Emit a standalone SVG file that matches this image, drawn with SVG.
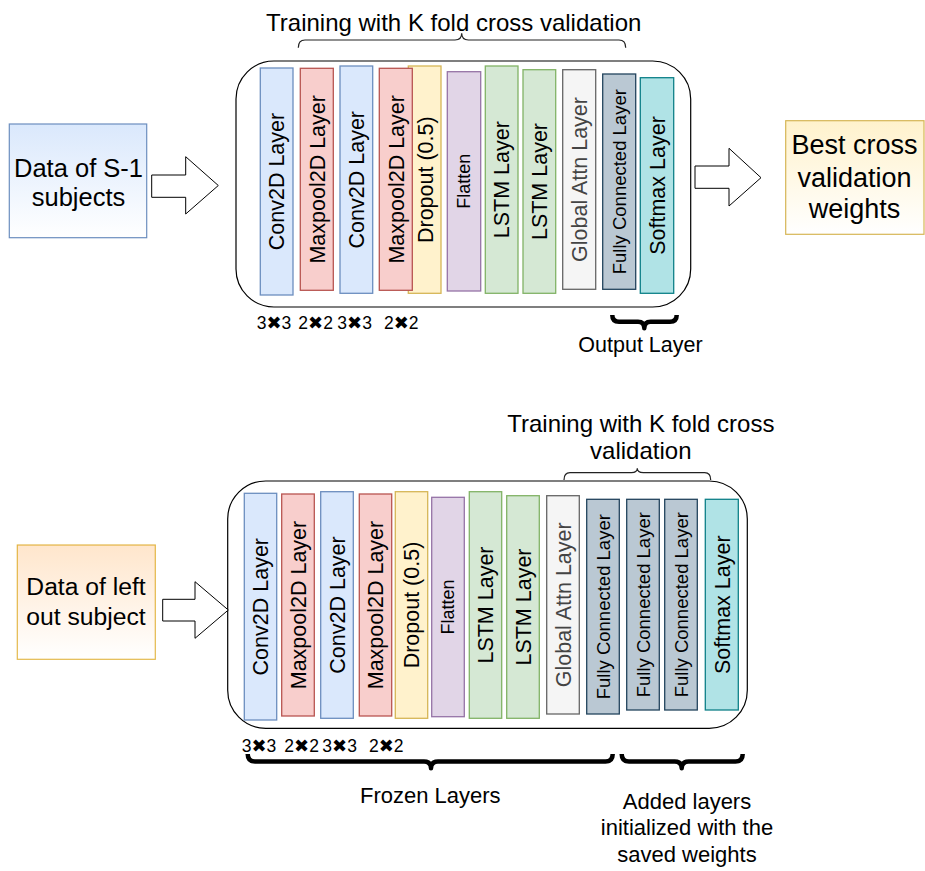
<svg xmlns="http://www.w3.org/2000/svg" width="925" height="871" viewBox="0 0 925 871">
<defs>
<linearGradient id="gBlue" x1="0" y1="0" x2="0" y2="1"><stop offset="0" stop-color="#dae8fc"/><stop offset="1" stop-color="#ffffff"/></linearGradient>
<linearGradient id="gYellow" x1="0" y1="0" x2="0" y2="1"><stop offset="0" stop-color="#fff2cc"/><stop offset="1" stop-color="#ffffff"/></linearGradient>
<linearGradient id="gOrange" x1="0" y1="0" x2="0" y2="1"><stop offset="0" stop-color="#ffe6cc"/><stop offset="1" stop-color="#ffffff"/></linearGradient>
<style>
text{font-family:"Liberation Sans",Arial,"DejaVu Sans",sans-serif;fill:#000}
.lbl{text-anchor:middle}
.bar text{text-anchor:middle;font-size:21.5px}
.conv rect{fill:#dae8fc;stroke:#6c8ebf}
.pool rect{fill:#f8cecc;stroke:#b85450}
.drop rect{fill:#fff2cc;stroke:#d6b656}
.flat rect{fill:#e1d5e7;stroke:#9673a6}
.bar.flat text{font-size:18px}
.lstm rect{fill:#d5e8d4;stroke:#82b366}
.attn rect{fill:#f5f5f5;stroke:#666666}
.attn text{fill:#444444}
.fc rect{fill:#bac8d3;stroke:#23445d}
.bar.fc text{font-size:18.5px}
.soft rect{fill:#b0e3e6;stroke:#0e8088}
.bar rect{stroke-width:1.3}
.panel{fill:#ffffff;stroke:#000;stroke-width:1.2}
.barrow{fill:#ffffff;stroke:#000;stroke-width:1}
.thin{fill:none;stroke:#222;stroke-width:1.2}
.thick{fill:none;stroke:#000;stroke-width:4.5;stroke-linejoin:round}
.dim{font-size:17.5px}
.x{font-family:"DejaVu Sans",sans-serif;font-size:18px}
</style>
</defs>

<!-- TOP PANEL -->
<text class="lbl" x="453.7" y="30.7" font-size="24">Training with K fold cross validation</text>
<path class="thin" d="M298.3,47.7 Q298.3,40 305,40 L455,40 Q461.7,40 461.7,33.3 Q461.7,40 468.4,40 L619,40 Q625.7,40 625.7,47.7"/>

<g id="input-top">
<rect x="9.3" y="124" width="137.4" height="113.7" fill="url(#gBlue)" stroke="#6c8ebf" stroke-width="1.2"/>
<text class="lbl" x="78.5" y="177" font-size="25.5">Data of S-1</text>
<text class="lbl" x="78.5" y="206" font-size="25.5">subjects</text>
</g>

<g id="model-top">
<rect class="panel" x="236" y="61" width="454.7" height="246" rx="38" ry="38"/>
<g id="t-conv1" class="bar conv"><rect x="260.3" y="68" width="32.7" height="227"/><text x="276.7" y="181.5" dy=".36em" transform="rotate(-90 276.7 181.5)">Conv2D Layer</text></g>
<g id="t-pool1" class="bar pool"><rect x="300.3" y="68.3" width="33" height="222"/><text x="316.8" y="179.3" dy=".36em" transform="rotate(-90 316.8 179.3)">Maxpool2D Layer</text></g>
<g id="t-conv2" class="bar conv"><rect x="340" y="66" width="32.7" height="227.3"/><text x="356.3" y="179.7" dy=".36em" transform="rotate(-90 356.3 179.7)">Conv2D Layer</text></g>
<g id="t-drop" class="bar drop"><rect x="408.3" y="66" width="32.7" height="227.3"/><text x="425.5" y="179.7" dy=".36em" transform="rotate(-90 425.5 179.7)">Dropout (0.5)</text></g>
<g id="t-pool2" class="bar pool"><rect x="379.3" y="68.3" width="33" height="222"/><text x="395.8" y="179.3" dy=".36em" transform="rotate(-90 395.8 179.3)">Maxpool2D Layer</text></g>
<g id="t-flat" class="bar flat"><rect x="447.3" y="71.7" width="33.4" height="219.3"/><text x="464" y="181.3" dy=".36em" transform="rotate(-90 464 181.3)">Flatten</text></g>
<g id="t-lstm1" class="bar lstm"><rect x="485.3" y="66" width="32.7" height="227.3"/><text x="501.7" y="179.7" dy=".36em" transform="rotate(-90 501.7 179.7)">LSTM Layer</text></g>
<g id="t-lstm2" class="bar lstm"><rect x="523" y="69.7" width="32.7" height="223.6"/><text x="539.3" y="181.5" dy=".36em" transform="rotate(-90 539.3 181.5)">LSTM Layer</text></g>
<g id="t-attn" class="bar attn"><rect x="562.7" y="69.7" width="33" height="219.6"/><text x="579.2" y="179.5" dy=".36em" transform="rotate(-90 579.2 179.5)">Global Attn Layer</text></g>
<g id="t-fc" class="bar fc"><rect x="602.7" y="74" width="33" height="215.3"/><text x="619.2" y="181.7" dy=".36em" transform="rotate(-90 619.2 181.7)">Fully Connected Layer</text></g>
<g id="t-soft" class="bar soft"><rect x="640.3" y="77.7" width="33.4" height="215.6"/><text x="657" y="185.5" dy=".36em" transform="rotate(-90 657 185.5)">Softmax Layer</text></g>
</g>

<g id="dims-top">
<text x="256.7" y="329.3" class="dim">3<tspan class="x">✖</tspan>3</text>
<text x="298.3" y="329.3" class="dim">2<tspan class="x">✖</tspan>2</text>
<text x="337.3" y="329.3" class="dim">3<tspan class="x">✖</tspan>3</text>
<text x="384" y="329.3" class="dim">2<tspan class="x">✖</tspan>2</text>
</g>

<g id="output-brace">
<path class="thick" d="M612.3,315 Q612.3,321.7 619,321.7 L638,321.7 Q644.3,321.7 644.3,328.3 Q644.3,321.7 650.6,321.7 L670,321.7 Q676.7,321.7 676.7,315"/>
<text class="lbl" x="640.5" y="351.7" font-size="21.5">Output Layer</text>
</g>

<g id="output-top">
<rect x="785.7" y="120.7" width="138.3" height="113.6" fill="url(#gYellow)" stroke="#d6b656" stroke-width="1.2"/>
<text class="lbl" x="854.5" y="154.3" font-size="27">Best cross</text>
<text class="lbl" x="854.5" y="186.7" font-size="27">validation</text>
<text class="lbl" x="854.5" y="218.3" font-size="27">weights</text>
</g>

<!-- BOTTOM PANEL -->
<text class="lbl" x="640.8" y="431.7" font-size="24">Training with K fold cross</text>
<text class="lbl" x="640.8" y="459.3" font-size="24">validation</text>
<path class="thin" d="M564,480 Q564,472.7 570,472.7 L631.3,472.7 Q637.3,472.7 637.3,468.3 Q637.3,472.7 643.3,472.7 L704.7,472.7 Q710.7,472.7 710.7,480"/>

<g id="input-bottom">
<rect x="17.3" y="545" width="138" height="114.3" fill="url(#gOrange)" stroke="#d79b00" stroke-opacity="0.7" stroke-width="1.2"/>
<text class="lbl" x="86" y="595" font-size="24.7">Data of left</text>
<text class="lbl" x="86" y="625" font-size="24.7">out subject</text>
</g>

<g id="model-bottom">
<rect class="panel" x="227.7" y="481" width="519.6" height="247.3" rx="38" ry="38"/>
<g id="b-conv1" class="bar conv"><rect x="244.3" y="493.3" width="32.4" height="226.7"/><text x="260.5" y="606.7" dy=".36em" transform="rotate(-90 260.5 606.7)">Conv2D Layer</text></g>
<g id="b-pool1" class="bar pool"><rect x="281.7" y="494" width="32.6" height="222"/><text x="298" y="605" dy=".36em" transform="rotate(-90 298 605)">Maxpool2D Layer</text></g>
<g id="b-conv2" class="bar conv"><rect x="320.7" y="491.7" width="32.6" height="226.6"/><text x="337" y="605" dy=".36em" transform="rotate(-90 337 605)">Conv2D Layer</text></g>
<g id="b-pool2" class="bar pool"><rect x="359.3" y="494" width="32.4" height="222"/><text x="375.5" y="605" dy=".36em" transform="rotate(-90 375.5 605)">Maxpool2D Layer</text></g>
<g id="b-drop" class="bar drop"><rect x="395.3" y="491.7" width="32.4" height="226.6"/><text x="411.5" y="605" dy=".36em" transform="rotate(-90 411.5 605)">Dropout (0.5)</text></g>
<g id="b-flat" class="bar flat"><rect x="431.7" y="497.3" width="32.6" height="219.4"/><text x="448" y="607" dy=".36em" transform="rotate(-90 448 607)">Flatten</text></g>
<g id="b-lstm1" class="bar lstm"><rect x="469.3" y="491.7" width="32.4" height="226.6"/><text x="485.5" y="605" dy=".36em" transform="rotate(-90 485.5 605)">LSTM Layer</text></g>
<g id="b-lstm2" class="bar lstm"><rect x="506.7" y="495.7" width="32.6" height="222.6"/><text x="523" y="607" dy=".36em" transform="rotate(-90 523 607)">LSTM Layer</text></g>
<g id="b-attn" class="bar attn"><rect x="546.7" y="495.7" width="32.6" height="218.3"/><text x="563" y="604.8" dy=".36em" transform="rotate(-90 563 604.8)">Global Attn Layer</text></g>
<g id="b-fc1" class="bar fc"><rect x="586.7" y="499.3" width="32.6" height="214.7"/><text x="603" y="606.7" dy=".36em" transform="rotate(-90 603 606.7)">Fully Connected Layer</text></g>
<g id="b-fc2" class="bar fc"><rect x="626.7" y="499.3" width="32.6" height="210.7"/><text x="643" y="604.7" dy=".36em" transform="rotate(-90 643 604.7)">Fully Connected Layer</text></g>
<g id="b-fc3" class="bar fc"><rect x="664.7" y="499.3" width="32.6" height="210.7"/><text x="681" y="604.7" dy=".36em" transform="rotate(-90 681 604.7)">Fully Connected Layer</text></g>
<g id="b-soft" class="bar soft"><rect x="705.3" y="499.3" width="33" height="210.7"/><text x="721.8" y="604.7" dy=".36em" transform="rotate(-90 721.8 604.7)">Softmax Layer</text></g>
</g>

<g id="dims-bottom">
<text x="241.7" y="751.7" class="dim">3<tspan class="x">✖</tspan>3</text>
<text x="284.3" y="751.7" class="dim">2<tspan class="x">✖</tspan>2</text>
<text x="322.3" y="751.7" class="dim">3<tspan class="x">✖</tspan>3</text>
<text x="369" y="751.7" class="dim">2<tspan class="x">✖</tspan>2</text>
</g>

<g id="frozen-brace">
<path class="thick" d="M247.7,754 Q247.7,761.5 255,761.5 L424,761.5 Q431,761.5 431,768.3 Q431,761.5 438,761.5 L605.5,761.5 Q612.7,761.5 612.7,754"/>
<text class="lbl" x="430.3" y="803.3" font-size="22">Frozen Layers</text>
</g>

<g id="added-brace">
<path class="thick" d="M621.7,754 Q621.7,761.5 629,761.5 L674.7,761.5 Q681.7,761.5 681.7,768.3 Q681.7,761.5 688.7,761.5 L735.5,761.5 Q742.7,761.5 742.7,754"/>
<text class="lbl" x="687" y="809" font-size="22">Added layers</text>
<text class="lbl" x="687" y="835" font-size="22">initialized with the</text>
<text class="lbl" x="687" y="861.5" font-size="22">saved weights</text>
</g>

<g id="connectors">
<path class="barrow" d="M151.7,175 L185.7,175 L185.7,156.7 L218.3,185.5 L185.7,214 L185.7,197.3 L151.7,197.3 Z"/>
<path class="barrow" d="M695,166 L729,166 L729,148.3 L761,177.7 L729,206 L729,188.3 L695,188.3 Z"/>
<path class="barrow" d="M162.7,599.3 L195,599.3 L195,581.7 L228.3,610 L195,638.3 L195,621 L162.7,621 Z"/>
</g>
</svg>
